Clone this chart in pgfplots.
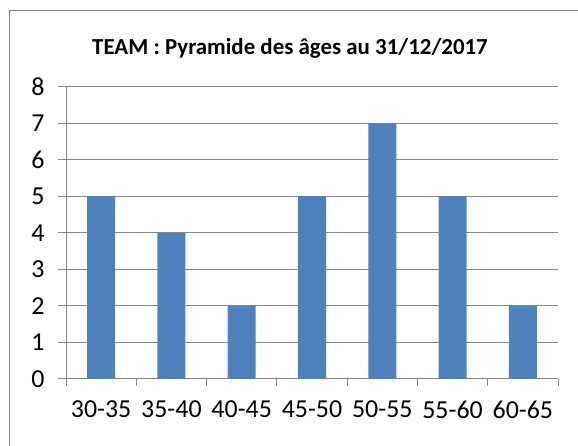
\documentclass[border=0pt]{standalone}
\usepackage{fontspec}
\setmainfont{Carlito}
\usepackage{pgfplots}
\pgfplotsset{compat=1.18}
\definecolor{barblue}{HTML}{4F81BD}
\definecolor{axisgray}{HTML}{868686}

\begin{document}
\begin{tikzpicture}[x=1bp,y=1bp]
\path[use as bounding box] (0,0) rectangle (578,446);
\draw[axisgray, line width=1bp] (9,-5) -- (9,435) -- (590,435);
\node[font=\fontsize{23}{26}\selectfont\bfseries] at (290,398) {TEAM : Pyramide des âges au 31/12/2017};
\begin{axis}[
  at={(66bp,67bp)}, anchor=south west,
  scale only axis,
  width=492bp, height=292bp,
  xmin=-0.5, xmax=6.5,
  ymin=0, ymax=8,
  axis x line*=bottom,
  axis y line*=left,
  axis line style={axisgray, line width=1bp, -},
  tick align=outside,
  xtick={0,...,6},
  xticklabels={30-35,35-40,40-45,45-50,50-55,55-60,60-65},
  minor xtick={-0.5,0.5,...,6.5},
  x tick style={draw=none},
  minor x tick style={draw=axisgray, line width=1bp},
  minor tick length=7bp,
  ytick={0,...,8},
  y tick style={axisgray, line width=1bp},
  major tick length=8bp,
  ymajorgrids,
  grid style={axisgray, line width=1bp},
  tick label style={font=\fontsize{26}{30}\selectfont},
  /pgf/number format/assume math mode=true,
  yticklabel style={xshift=-10bp},
  xticklabel style={yshift=-10bp},
  clip=false,
]
\addplot[ybar, bar width=28bp, fill=barblue, draw=none] coordinates {
 (0,5) (1,4) (2,2) (3,5) (4,7) (5,5) (6,2)
};
\end{axis}
\end{tikzpicture}
\end{document}
